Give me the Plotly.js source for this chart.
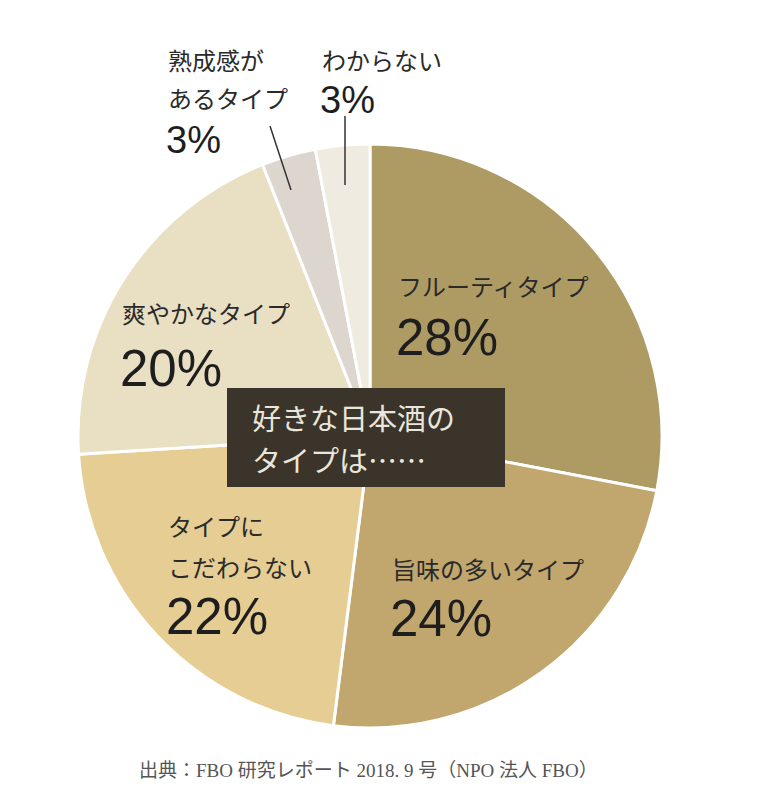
<!DOCTYPE html>
<html>
<head>
<meta charset="utf-8">
<script src="https://cdn.plot.ly/plotly-3.0.1.min.js"></script>
<style>html,body{margin:0;padding:0;background:#fff;}#chart{width:760px;height:795px;}</style>
</head>
<body>
<div id="chart"></div>
<script>
// Data
const categories = ["フルーティタイプ", "旨味の多いタイプ", "タイプにこだわらない", "爽やかなタイプ", "熟成感があるタイプ", "わからない"];
const shares = [28, 24, 22, 20, 3, 3];
const sliceColors = ["#ae9b64", "#c1a76d", "#e5cd93", "#e9e0c4", "#dcd6cf", "#efebe1"];
const labelLines = [["フルーティタイプ"], ["旨味の多いタイプ"], ["タイプに", "こだわらない"], ["爽やかなタイプ"], ["熟成感が", "あるタイプ"], ["わからない"]];
const centerTitle = ["好きな日本酒の", "タイプは……"];
const sourceNote = "出典：FBO 研究レポート 2018. 9 号（NPO 法人 FBO）";

const W = 760, H = 795;
const px = x => x / W;
const py = y => 1 - y / H;

// label placement (pixels): [x, firstLineY, lineGap, pctY, pctSize]
const labelPos = [
  [396, 286, 0, 337, 51],
  [390, 568, 0, 618, 51],
  [166, 525, 41, 616, 51],
  [120, 312, 0, 368, 51],
  [166, 60, 38, 140, 38],
  [320, 60, 0, 100, 38]
];

const annotations = [];
const jp = '"Noto Sans CJK JP", "Noto Sans", sans-serif';
categories.forEach((c, i) => {
  const [x, y0, gap, yp, ps] = labelPos[i];
  labelLines[i].forEach((t, k) => {
    annotations.push({xref: 'paper', yref: 'paper', x: px(x), y: py(y0 + k * gap), text: t,
      showarrow: false, xanchor: 'left', yanchor: 'middle', font: {family: jp, size: 24, color: '#2a2a2a'}});
  });
  annotations.push({xref: 'paper', yref: 'paper', x: px(x - 2), y: py(yp), text: shares[i] + '%',
    showarrow: false, xanchor: 'left', yanchor: 'middle', font: {family: '"Liberation Sans", "Noto Sans", sans-serif', size: ps, color: '#1e1e1e'}});
});
centerTitle.forEach((t, k) => {
  annotations.push({xref: 'paper', yref: 'paper', x: px(250), y: py(417 + k * 42), text: t,
    showarrow: false, xanchor: 'left', yanchor: 'middle', font: {family: jp, size: 29, color: '#ebe6dc'}});
});
annotations.push({xref: 'paper', yref: 'paper', x: px(368), y: py(770), text: sourceNote,
  showarrow: false, xanchor: 'center', yanchor: 'middle', font: {family: '"Liberation Serif", "Noto Sans CJK JP", serif', size: 19, color: '#555'}});

const cx = 370, cy = 436, r = 292;
const trace = {
  type: 'pie', values: shares, labels: categories, sort: false, direction: 'clockwise', rotation: 0,
  marker: {colors: sliceColors, line: {color: '#ffffff', width: 3}},
  textinfo: 'none', hoverinfo: 'label+percent', showlegend: false,
  domain: {x: [px(cx - r), px(cx + r)], y: [py(cy + r), py(cy - r)]}
};

const layout = {
  width: W, height: H, margin: {l: 0, r: 0, t: 0, b: 0},
  paper_bgcolor: '#ffffff', plot_bgcolor: '#ffffff', showlegend: false,
  annotations: annotations,
  shapes: [
    {type: 'rect', xref: 'paper', yref: 'paper', x0: px(227), x1: px(505), y0: py(388), y1: py(487),
      fillcolor: '#3a342b', line: {width: 0}, layer: 'above'},
    {type: 'line', xref: 'paper', yref: 'paper', x0: px(270), y0: py(126), x1: px(291), y1: py(190),
      line: {color: '#333', width: 1.5}, layer: 'above'},
    {type: 'line', xref: 'paper', yref: 'paper', x0: px(345), y0: py(116), x1: px(345), y1: py(185),
      line: {color: '#333', width: 1.5}, layer: 'above'}
  ]
};

Plotly.newPlot('chart', [trace], layout, {displayModeBar: false, staticPlot: true});
</script>
</body>
</html>
